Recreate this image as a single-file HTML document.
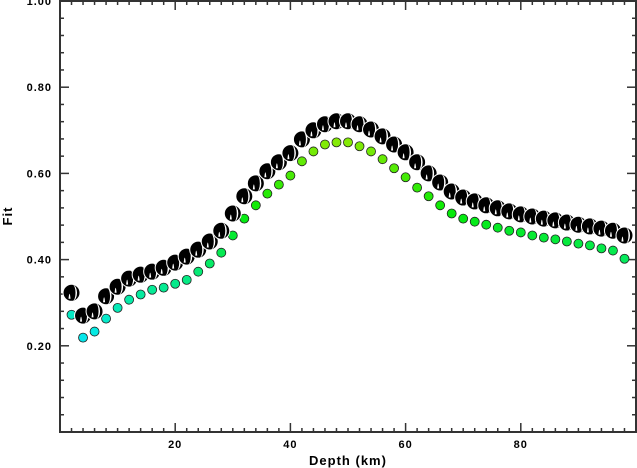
<!DOCTYPE html>
<html><head><meta charset="utf-8"><style>
body{margin:0;background:#fff;}
svg{display:block;font-family:"Liberation Sans",sans-serif;}
</style></head><body>
<svg id="chart" width="637" height="468" viewBox="0 0 637 468" xmlns="http://www.w3.org/2000/svg">
<g id="axes"></g>
<g id="marks"></g>
<text x="348" y="465" font-size="13" font-weight="bold" text-anchor="middle" letter-spacing="1">Depth (km)</text>
<text x="12" y="216" font-size="13" font-weight="bold" text-anchor="middle" letter-spacing="1" transform="rotate(-90 12 216)">Fit</text>
</svg>
<script>
const depths=[2,4,6,8,10,12,14,16,18,20,22,24,26,28,30,32,34,36,38,40,42,44,46,48,50,52,54,56,58,60,62,64,66,68,70,72,74,76,78,80,82,84,86,88,90,92,94,96,98];
const fitBall=[0.323,0.27,0.28,0.315,0.337,0.356,0.365,0.372,0.381,0.393,0.407,0.423,0.442,0.467,0.507,0.547,0.577,0.605,0.626,0.647,0.679,0.70,0.714,0.721,0.721,0.714,0.702,0.686,0.667,0.649,0.626,0.60,0.579,0.558,0.544,0.535,0.526,0.519,0.512,0.505,0.50,0.495,0.491,0.486,0.481,0.477,0.472,0.467,0.456];
const fitDot=[0.272,0.219,0.233,0.263,0.288,0.307,0.319,0.33,0.335,0.344,0.353,0.372,0.391,0.416,0.456,0.495,0.526,0.553,0.574,0.595,0.628,0.651,0.667,0.672,0.672,0.663,0.651,0.633,0.612,0.591,0.567,0.547,0.526,0.507,0.495,0.488,0.481,0.474,0.467,0.463,0.456,0.451,0.447,0.442,0.437,0.433,0.426,0.421,0.402];
const xTicks=[20,40,60,80];
const yTicks=[0.2,0.4,0.6,0.8,1.0];
const NS="http://www.w3.org/2000/svg";
const L=60,R=636,T=1,B=432;
const xs=d=>L+(d-0)*(R-L)/100;
const ys=v=>B-v*(B-T);
function mk(tag,attrs,parent){const e=document.createElementNS(NS,tag);for(const k in attrs)e.setAttribute(k,attrs[k]);parent.appendChild(e);return e;}
const ax=document.getElementById('axes');
const frame=mk('rect',{x:L,y:T,width:R-L,height:B-T,fill:'none',stroke:'#333','stroke-width':2},ax);


for(let d=2;d<100;d+=2){const major=d%20===0;const len=major?9:4;
 const t1=mk('line',{x1:xs(d),x2:xs(d),y1:B,y2:B-len,stroke:'#333','stroke-width':1.5},ax);
 
 
 const t2=mk('line',{x1:xs(d),x2:xs(d),y1:T,y2:T+len,stroke:'#333','stroke-width':1.5},ax);
 
 }
for(let i=1;i<25;i++){const v=i*0.04;const major=i%5===0;const len=major?9:4;
 const t1=mk('line',{x1:L,x2:L+len,y1:ys(v),y2:ys(v),stroke:'#333','stroke-width':1.5},ax);
 
 
 const t2=mk('line',{x1:R,x2:R-len,y1:ys(v),y2:ys(v),stroke:'#333','stroke-width':1.5},ax);
 
 }
xTicks.forEach(d=>{const t=mk('text',{x:xs(d),y:B+16,'font-size':11,'font-weight':'bold','text-anchor':'middle','letter-spacing':1},ax);t.textContent=d;
 
 });
yTicks.forEach(v=>{const t=mk('text',{x:L-8,y:ys(v)+4,'font-size':11,'font-weight':'bold','text-anchor':'end','letter-spacing':1},ax);t.textContent=v.toFixed(2);
 
 });
const mg=document.getElementById('marks');
function col(v){const h=185-(Math.min(Math.max(v,0.2),0.68)-0.2)/0.48*100;return `hsl(${h},95%,47%)`;}
depths.forEach((d,i)=>{const c=mk('circle',{cx:xs(d),cy:ys(fitDot[i]),r:4.5,fill:col(fitDot[i]),stroke:'#222','stroke-width':0.8},mg);
 
 });
depths.forEach((d,i)=>{const x=xs(d),y=ys(fitBall[i]);
 const g=mk('g',{},mg);
 
 
 mk('circle',{cx:x,cy:y,r:8.5,fill:'#000',stroke:'#fff','stroke-width':1},g);
 mk('path',{d:`M${x+1},${y-8} A4.5 8 0 0 1 ${x+1},${y+8} A3 8 0 0 0 ${x+1},${y-8}Z`,fill:'#fff'},g);
 mk('path',{d:`M${x-3},${y+6} Q${x-2},${y-4} ${x-1},${y+6}Z`,fill:'#fff'},g);});
</script>
</body></html>
